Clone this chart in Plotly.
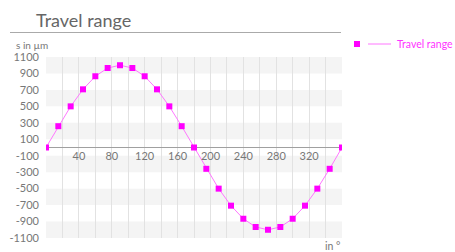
import plotly.graph_objects as go

angles = [0, 15, 30, 45, 60, 75, 90, 105, 120, 135, 150, 165, 180,
          195, 210, 225, 240, 255, 270, 285, 300, 315, 330, 345, 360]
travel = [0, 259, 500, 707, 866, 966, 1000, 966, 866, 707, 500, 259, 0,
          -259, -500, -707, -866, -966, -1000, -966, -866, -707, -500, -259, 0]
y_ticks = [-1100, -900, -700, -500, -300, -100, 100, 300, 500, 700, 900, 1100]
x_ticks = [40, 80, 120, 160, 200, 240, 280, 320]

FONT = "Lato"
GREY = "#777777"
MAG = "#ff00ff"

fig = go.Figure()
fig.add_trace(go.Scatter(
    x=angles, y=travel, mode="lines+markers", name="Travel range",
    line=dict(color="#ff77ff", width=1),
    marker=dict(symbol="square", size=6, color=MAG),
    showlegend=False,
))

shapes = []
# alternating bands, starting with grey from the top tick
for i in range(len(y_ticks) - 1, 0, -2):
    shapes.append(dict(type="rect", xref="paper", yref="y", x0=0, x1=1,
                       y0=y_ticks[i - 1], y1=y_ticks[i],
                       fillcolor="#f4f4f4", line=dict(width=0), layer="below"))

W, H = 455, 252
L, R, T, B = 46, 342, 57, 238
pw, ph = R - L, B - T
def px(x):
    return (x - L) / pw
def py(y):
    return (B - y) / ph

# title underline
shapes.append(dict(type="line", xref="paper", yref="paper",
                   x0=px(10), x1=px(341), y0=py(32.5), y1=py(32.5),
                   line=dict(color="#aaaaaa", width=1)))
# legend line
shapes.append(dict(type="line", xref="paper", yref="paper",
                   x0=px(368), x1=px(391), y0=py(44), y1=py(44),
                   line=dict(color="#ff77ff", width=1)))
shapes.append(dict(type="rect", xref="paper", yref="paper",
                   x0=px(354), x1=px(360), y0=py(41), y1=py(47),
                   fillcolor=MAG, line=dict(width=0)))

annotations = [
    dict(text="Travel range", xref="paper", yref="paper", x=px(34), y=py(20),
         xanchor="left", yanchor="middle", showarrow=False,
         font=dict(family=FONT, size=18, color="#666666")),
    dict(text="s in µm", xref="paper", yref="paper", x=px(14), y=py(45),
         xanchor="left", yanchor="middle", showarrow=False,
         font=dict(family=FONT, size=10, color=GREY)),
    dict(text="in °", xref="paper", yref="paper", x=px(342), y=py(245.5),
         xanchor="right", yanchor="middle", showarrow=False,
         font=dict(family=FONT, size=10.5, color=GREY)),
    dict(text="Travel range", xref="paper", yref="paper", x=px(455), y=py(44),
         xanchor="right", yanchor="middle", showarrow=False,
         font=dict(family=FONT, size=10.5, color="#ff33ff")),
]

fig.update_layout(
    width=W, height=H,
    margin=dict(l=L, r=W - R, t=T, b=H - B, pad=0, autoexpand=False),
    paper_bgcolor="white", plot_bgcolor="white",
    font=dict(family=FONT, size=11, color=GREY),
    shapes=shapes, annotations=annotations,
    xaxis=dict(range=[0, 360], tickvals=x_ticks, ticktext=[str(v) for v in x_ticks],
               showgrid=True, gridcolor="#e2e2e2", gridwidth=1,
               minor=dict(dtick=20, tick0=0, showgrid=True, gridcolor="#e2e2e2", gridwidth=1),
               zeroline=False, showline=False, ticks="", automargin=False,
               anchor="free", position=0.5,
               tickfont=dict(family=FONT, size=11, color=GREY)),
    yaxis=dict(range=[-1100, 1100], tickvals=y_ticks, ticktext=[str(v) for v in y_ticks],
               showgrid=False, zeroline=True, zerolinecolor="#a0a0a0", zerolinewidth=1,
               showline=False, ticks="", ticklabelstandoff=6, automargin=False,
               tickfont=dict(family=FONT, size=11, color=GREY)),
)

fig.write_html("out.html", config={"displayModeBar": False},
               post_script="document.body.style.margin='0';document.body.style.padding='0';")
